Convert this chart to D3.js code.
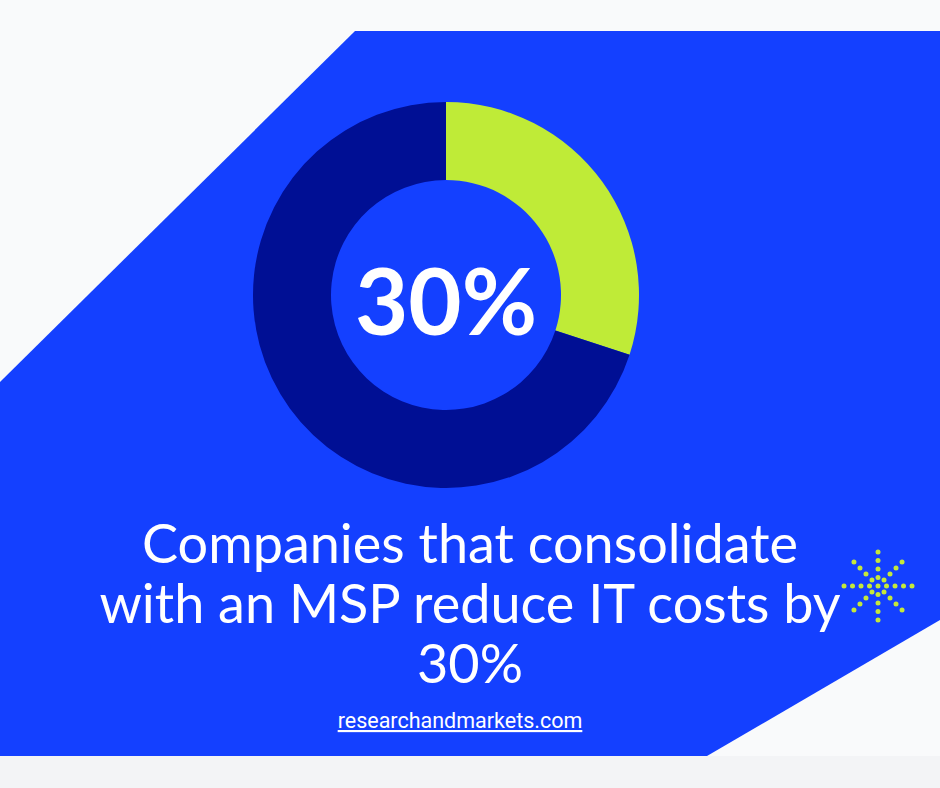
<!DOCTYPE html>
<html><head><meta charset="utf-8">
<script src="https://cdn.jsdelivr.net/npm/d3@7"></script>
<style>body{margin:0;background:#f3f4f6;}svg{display:block;}</style>
</head><body><div id="chart"></div>
<script>
const categories = ["Reduced IT costs", "Other"];
const values = [30, 70];
const colors = ["#bfeb37", "#000f94"];
const headline = "30%";
const captionLines = ["Companies that consolidate", "with an MSP reduce IT costs by", "30%"];
const source = "researchandmarkets.com";

const width = 940, height = 788;
const svg = d3.select("#chart").append("svg").attr("width", width).attr("height", height);

// background
svg.append("rect").attr("width", width).attr("height", height).attr("fill", "#f3f4f6");
svg.append("rect").attr("width", width).attr("height", 756).attr("fill", "#f9fafb");
svg.append("path")
  .attr("d", "M355,31 L940,31 L940,620 L707,756 L0,756 L0,382 Z")
  .attr("fill", "#1440ff");

// donut
const cx = 446, cy = 295;
const pie = d3.pie().sort(null).value(d => d);
const arc = d3.arc().innerRadius(115).outerRadius(193);
const g = svg.append("g").attr("transform", `translate(${cx},${cy})`);
g.selectAll("path").data(pie(values)).enter().append("path")
  .attr("d", arc).attr("fill", (d, i) => colors[i]);

g.append("text").attr("text-anchor", "middle").attr("y", 7).attr("dy", "0.36em")
  .attr("fill", "#fff").attr("font-family", "Lato, 'Noto Sans', sans-serif")
  .attr("font-weight", 700).attr("font-size", 92).text(headline);

// caption
svg.selectAll(".cap").data(captionLines).enter().append("text")
  .attr("x", 470).attr("y", (d, i) => 563 + i * 60)
  .attr("text-anchor", "middle").attr("fill", "#fff")
  .attr("font-family", "Lato, 'Noto Sans', sans-serif").attr("font-size", 54)
  .text(d => d);

svg.append("text").attr("x", 460).attr("y", 728).attr("text-anchor", "middle")
  .attr("fill", "#fff").attr("font-family", "Roboto, sans-serif").attr("font-size", 21.5)
  .attr("text-decoration", "underline").text(source);

// starburst decoration
const star = svg.append("g").attr("transform", "translate(878,586)");
for (let a = 0; a < 8; a++) {
  const ang = a * Math.PI / 4;
  for (let k = 1; k <= 4; k++) {
    star.append("circle").attr("cx", Math.cos(ang) * k * 8.5).attr("cy", Math.sin(ang) * k * 8.5)
      .attr("r", 2.5).attr("fill", "#c5e83a");
  }
}
star.append("circle").attr("r", 2.5).attr("fill", "#c5e83a");
</script></body></html>
